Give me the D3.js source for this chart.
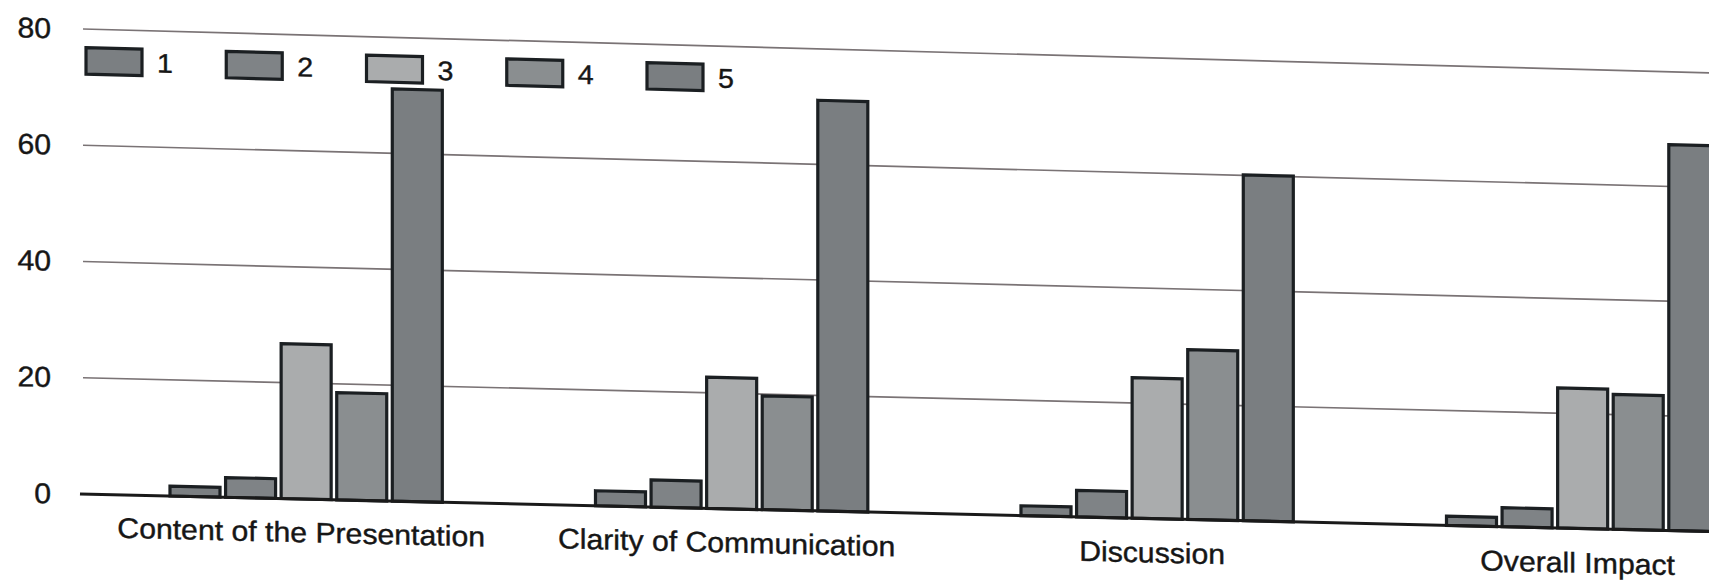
<!DOCTYPE html>
<html><head><meta charset="utf-8">
<script src="https://cdn.jsdelivr.net/npm/d3@7"></script>
<style>html,body{margin:0;padding:0;background:#fff;overflow:hidden}</style>
</head><body>
<svg id="chart" width="1709" height="588"></svg>
<script>
// ---- data ----
const categories = ["Content of the Presentation", "Clarity of Communication", "Discussion", "Overall Impact"];
const seriesNames = ["1", "2", "3", "4", "5"];
const rating1 = [1.7, 2.6, 1.7, 1.6];
const rating2 = [3.4, 4.7, 4.6, 3.3];
const rating3 = [26.7, 22.7, 24.4, 24.4];
const rating4 = [18.5, 19.7, 29.5, 23.5];
const rating5 = [71.1, 71.1, 60.1, 67.3];
const yTicks = [0, 20, 40, 60, 80];
const seriesColors = ["#7b7f82", "#7f8386", "#aaacad", "#8a8e90", "#7a7e81"];

const seriesValues = [rating1, rating2, rating3, rating4, rating5];
const rows = categories.map((c, i) => ({cat: c, vals: seriesNames.map((s, j) => ({s, v: seriesValues[j][i]}))}));

// ---- scan-like perspective warp (vertical lines stay vertical) ----
const X0 = 83, Y0 = 494, SPAN = 465, A = 0.023, B = 0.004;
const slopeAt = yy => A + B * (Y0 - yy) / SPAN;
const warp = (x, yy) => [x, yy + (x - X0) * slopeAt(yy)];
const quad = (xa, ya, xb, yb) => {
  const p = [warp(xa, ya), warp(xb, ya), warp(xb, yb), warp(xa, yb)];
  return "M" + p.map(d => d[0].toFixed(2) + "," + d[1].toFixed(2)).join("L") + "Z";
};
const seg = (xa, xb, yy) => {
  const p = [warp(xa, yy), warp(xb, yy)];
  return "M" + p.map(d => d[0].toFixed(2) + "," + d[1].toFixed(2)).join("L");
};
const textTf = (x, yy, sx, extra) => {
  const [wx, wy] = warp(x, yy);
  const a = Math.atan(slopeAt(yy) + (extra || 0)) * 180 / Math.PI;
  return `translate(${wx.toFixed(2)},${(wy + (x - X0) * (extra || 0)).toFixed(2)}) skewY(${a.toFixed(3)}) scale(${sx},1)`;
};

// ---- scales ----
const y = d3.scaleLinear().domain([0, 80]).range([494, 29]);
const x0 = d3.scaleBand().domain(categories).range([93.4, 1795.4]).paddingInner(0.36).paddingOuter(0.18);
const x1 = d3.scaleBand().domain(seriesNames).range([0, x0.bandwidth()]).paddingInner(0.1);
const color = d3.scaleOrdinal().domain(seriesNames).range(seriesColors);

const svg = d3.select("#chart");
const FONT = "'Liberation Sans', Arial, sans-serif";
const TXT = "#161616";

// gridlines
svg.append("g").selectAll("path").data(yTicks.filter(t => t > 0)).join("path")
  .attr("d", t => seg(83, 1800, y(t)))
  .attr("fill", "none").attr("stroke", "#7a7375").attr("stroke-width", 1.7);

// y tick labels
svg.append("g").selectAll("text").data(yTicks).join("text")
  .attr("transform", t => textTf(51, y(t) + 10, 1.06))
  .attr("text-anchor", "end")
  .attr("font-family", FONT).attr("font-size", 28.5).attr("fill", TXT)
  .attr("stroke", TXT).attr("stroke-width", 0.4)
  .text(t => t);

// bars
const groups = svg.append("g").selectAll("g").data(rows).join("g");
groups.selectAll("path").data(d => d.vals.map(v => ({...v, cat: d.cat}))).join("path")
  .attr("d", d => {
    const xa = x0(d.cat) + x1(d.s);
    return quad(xa, y(d.v), xa + x1.bandwidth(), y(0));
  })
  .attr("fill", d => color(d.s))
  .attr("stroke", "#1b1f22").attr("stroke-width", 3.2).attr("stroke-linejoin", "miter");

// zero baseline
svg.append("path").attr("d", seg(80, 1800, y(0)))
  .attr("fill", "none").attr("stroke", "#1a1a1a").attr("stroke-width", 3);

// category labels
svg.append("g").selectAll("text").data(categories).join("text")
  .attr("transform", c => textTf(x0(c) + x0.bandwidth() / 2 - 5, 537, 1.06, 0.0012))
  .attr("text-anchor", "middle")
  .attr("font-family", FONT).attr("font-size", 28.5).attr("fill", TXT)
  .attr("stroke", TXT).attr("stroke-width", 0.4)
  .text(c => c);

// legend
const legendX = d3.scalePoint().domain(seriesNames).range([86, 86 + 4 * 140.25]);
const lg = svg.append("g").selectAll("g").data(seriesNames).join("g");
lg.append("path")
  .attr("d", s => quad(legendX(s), 47.5, legendX(s) + 56, 74))
  .attr("fill", s => color(s))
  .attr("stroke", "#1b1f22").attr("stroke-width", 3.2);
lg.append("text")
  .attr("transform", s => textTf(legendX(s) + 79, 70.5, 1.06))
  .attr("text-anchor", "middle")
  .attr("font-family", FONT).attr("font-size", 27).attr("fill", TXT)
  .attr("stroke", TXT).attr("stroke-width", 0.4)
  .text(s => s);
</script>
</body></html>
